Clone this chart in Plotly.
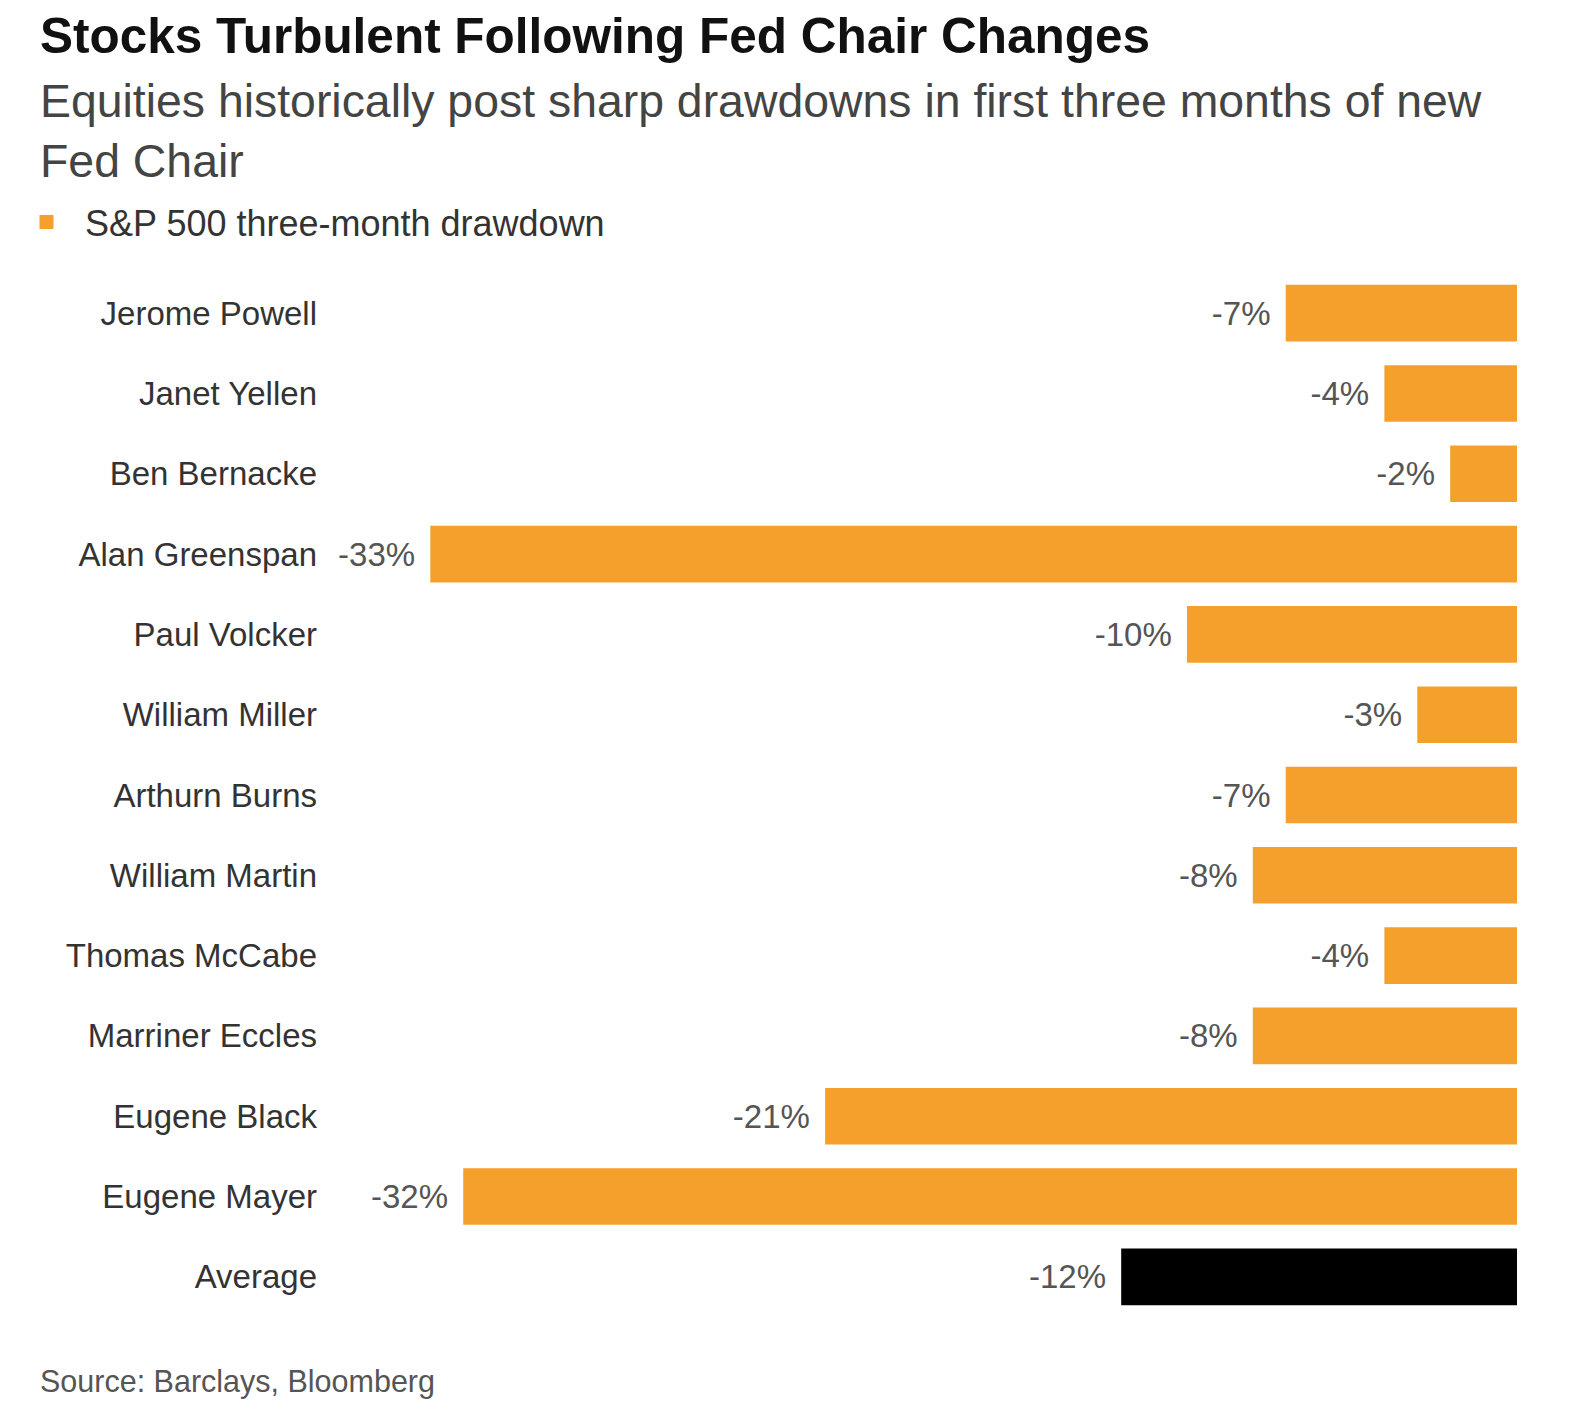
import plotly.graph_objects as go

# S&P 500 drawdown in the first three months of each new Fed chair
chairs = ["Jerome Powell", "Janet Yellen", "Ben Bernacke", "Alan Greenspan", "Paul Volcker",
          "William Miller", "Arthurn Burns", "William Martin", "Thomas McCabe", "Marriner Eccles",
          "Eugene Black", "Eugene Mayer"]
drawdowns = [-7, -4, -2, -33, -10, -3, -7, -8, -4, -8, -21, -32]
avg_label = ["Average"]
avg_value = [-12]

FONT = "Liberation Sans, Arial, sans-serif"
ORANGE = "#F5A02D"

W, H = 1570, 1412
OFF = 8  # page body margin
ML, MR, MT, MB = 324, 61, 265, 103
PW = W - ML - MR
PH = H - MT - MB


def px_x(x):
    # convert a pixel column of the picture to paper coords
    return (x - OFF - ML) / PW


def px_y(y):
    return 1 - (y - OFF - MT) / PH


fig = go.Figure()
fig.add_trace(go.Bar(
    y=chairs, x=drawdowns, orientation="h", name="S&P 500 three-month drawdown",
    marker=dict(color=ORANGE, line=dict(width=2, color=ORANGE)),
    text=[f"{v}%\u2009\u2009" for v in drawdowns], textposition="outside",
    outsidetextfont=dict(family=FONT, size=33, color="#555555"),
    cliponaxis=False, width=0.68,
))
fig.add_trace(go.Bar(
    y=avg_label, x=avg_value, orientation="h", showlegend=False,
    marker=dict(color="#000000", line=dict(width=2, color="#000000")),
    text=[f"{v}%\u2009\u2009" for v in avg_value], textposition="outside",
    outsidetextfont=dict(family=FONT, size=33, color="#555555"),
    cliponaxis=False, width=0.68,
))

fig.update_layout(
    width=W, height=H,
    margin=dict(l=ML, r=MR, t=MT, b=MB),
    paper_bgcolor="white", plot_bgcolor="white",
    barmode="overlay",
    font=dict(family=FONT, color="#333333"),
    xaxis=dict(range=[-(W - MR - ML) / 32.9, 0], visible=False, fixedrange=True),
    yaxis=dict(autorange="reversed", showgrid=False, showline=False, zeroline=False,
               ticks="", tickfont=dict(family=FONT, size=33, color="#333333"),
               ticklabelstandoff=14, categoryorder="array",
               categoryarray=chairs + avg_label),
    legend=dict(xref="container", yref="container", x=0, y=1 - 214 / H,
                yanchor="middle", xanchor="left", orientation="h", itemwidth=67,
                font=dict(family=FONT, size=36, color="#333333"),
                bgcolor="rgba(0,0,0,0)"),
    showlegend=True,
    annotations=[
        dict(text="<b>Stocks Turbulent Following Fed Chair Changes</b>",
             xref="paper", yref="paper", x=px_x(38), y=px_y(36), xanchor="left", yanchor="middle",
             showarrow=False, font=dict(family=FONT, size=49.5, color="#111111")),
        dict(text="Equities historically post sharp drawdowns in first three months of new<br>Fed Chair",
             xref="paper", yref="paper", x=px_x(38), y=px_y(131), xanchor="left", yanchor="middle",
             align="left", showarrow=False, font=dict(family=FONT, size=46.4, color="#444444")),
        dict(text="Source: Barclays, Bloomberg",
             xref="paper", yref="paper", x=px_x(38), y=px_y(1381), xanchor="left", yanchor="middle",
             showarrow=False, font=dict(family=FONT, size=30.5, color="#555555")),
    ],
)

fig.write_html("out.html")
